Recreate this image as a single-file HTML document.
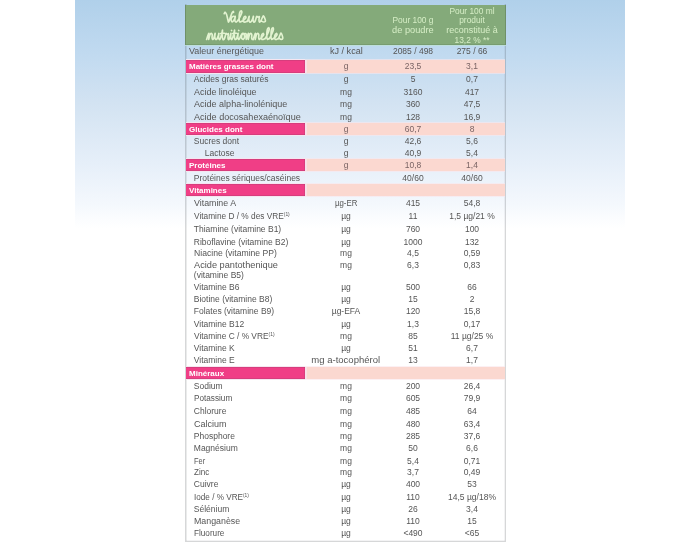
<!DOCTYPE html>
<html><head><meta charset="utf-8"><style>
html,body{margin:0;padding:0;width:700px;height:550px;overflow:hidden;background:#fff;}
body{position:relative;font-family:"Liberation Sans",sans-serif;}
.bg{position:absolute;left:75px;top:0;width:550px;height:550px;background:linear-gradient(to bottom,#b0d0ea 0px,#c1daf0 55px,#d3e3f2 104px,#e6eff9 164px,#f4f8fd 204px,#ffffff 228px);}
.box{position:absolute;left:185px;top:4px;width:319px;height:537px;border:1px solid rgba(50,55,60,.2);border-top:none;box-shadow:inset 1px 0 0 rgba(50,55,60,.1),inset -1px 0 0 rgba(50,55,60,.06),inset 0 -1px 0 rgba(50,55,60,.06);}
.hd{position:absolute;left:185px;top:4.5px;width:321px;height:40px;background:#84aa7a;box-shadow:inset -1px 0 0 #6f9068,inset 1px 0 0 #6f9068,inset 0 -1px 0 #789c70,0 1px 0 rgba(190,225,215,.8);}
.ttl{position:absolute;font-family:"Liberation Serif",serif;font-style:italic;color:#e6f4d4;opacity:.88;white-space:nowrap;}
.hc{position:absolute;width:80px;text-align:center;color:#d6eec6;font-size:8.4px;line-height:9.65px;white-space:nowrap;}
.t{position:absolute;height:12px;line-height:12px;white-space:nowrap;color:#555555;font-size:8.5px;}
.t sup{font-size:5px;vertical-align:top;line-height:8px;}
.l0{left:189.3px;}
.l1{left:193.8px;}
.l2{left:204.8px;}
.lb{left:189px;color:#fff;font-weight:bold;font-size:8px;}
.pv{color:#7a6464;}
.u{left:306px;width:80px;text-align:center;}
.c1{left:373px;width:80px;text-align:center;}
.c2{left:432px;width:80px;text-align:center;}
.pk{position:absolute;left:185.5px;width:119.2px;background:#f03e86;box-shadow:inset 0 1px 0 rgba(170,60,110,.35),inset 0 -1px 0 rgba(170,60,110,.35),inset -1px 0 0 rgba(170,60,110,.3),0 -1px 0 #f6e6f0,0 1px 0 #f6e6f0;}
.pl{position:absolute;left:304.7px;width:200.3px;background:linear-gradient(to right,#f9e1e9 0px,#f9e1e9 1.3px,#fbd8d0 2.5px);box-shadow:0 -1px 0 rgba(250,230,235,.6),0 1px 0 rgba(250,230,235,.6);}
#wrap{position:absolute;left:0;top:0;width:700px;height:550px;filter:blur(0.4px);}
</style></head><body><div id="wrap">
<div class="bg"></div>
<div class="box"></div>
<div class="hd"></div>
<svg width="700" height="60" style="position:absolute;left:0;top:0" viewBox="0 0 700 60"><path d="M235.26,17.16C234.93,17.01 233.97,16.02 233.28,16.30C232.60,16.59 231.35,17.91 231.15,18.86C230.95,19.81 231.52,22.00 232.10,22.00C232.68,22.00 234.10,19.81 234.63,18.86C235.15,17.91 235.22,16.06 235.26,16.30C235.30,16.54 234.76,19.34 234.86,20.29C234.97,21.24 235.50,21.83 235.89,22.00C236.29,22.17 236.55,22.17 237.23,21.32C237.92,20.46 239.24,18.32 240.00,16.87C240.76,15.42 241.62,13.59 241.82,12.60C242.01,11.60 241.55,10.84 241.19,10.88C240.82,10.93 239.95,11.50 239.60,12.88C239.26,14.26 239.08,17.63 239.13,19.15C239.18,20.67 239.45,21.70 239.92,22.00C240.39,22.30 241.63,21.09 241.97,20.97C242.32,20.86 241.61,21.54 241.97,21.32C242.34,21.09 243.53,20.20 244.19,19.61C244.85,19.01 245.77,18.28 245.92,17.73C246.08,17.17 245.56,16.16 245.13,16.30C244.71,16.44 243.63,17.68 243.40,18.58C243.16,19.48 243.36,21.14 243.71,21.71C244.07,22.29 244.90,22.12 245.53,22.00C246.16,21.88 247.18,21.09 247.50,20.97C247.83,20.86 247.31,21.86 247.50,21.32C247.70,20.77 248.40,18.56 248.69,17.73C248.98,16.89 249.22,16.02 249.24,16.30C249.27,16.59 248.78,18.51 248.85,19.43C248.91,20.36 249.27,21.45 249.64,21.83C250.01,22.21 250.56,22.21 251.06,21.71C251.56,21.22 252.24,19.77 252.64,18.86C253.03,17.96 253.36,16.16 253.43,16.30C253.50,16.44 252.97,18.77 253.03,19.72C253.10,20.67 253.50,21.73 253.82,22.00C254.15,22.27 254.58,22.12 255.01,21.32C255.44,20.51 256.12,17.99 256.43,17.16C256.75,16.32 256.64,16.30 256.91,16.30C257.17,16.30 257.60,17.11 258.01,17.16C258.42,17.20 259.20,16.16 259.36,16.59C259.51,17.01 258.96,18.82 258.96,19.72C258.96,20.62 259.09,21.73 259.36,22.00C259.62,22.27 260.01,22.08 260.54,21.32C261.07,20.56 262.01,18.32 262.51,17.44C263.02,16.56 263.11,15.73 263.54,16.02C263.98,16.30 264.83,18.27 265.12,19.15C265.41,20.03 265.54,20.84 265.28,21.32C265.02,21.79 264.13,22.03 263.54,22.00C262.95,21.97 262.03,21.29 261.73,21.14M224.20,13.73C224.36,13.48 224.75,12.05 225.15,12.20C225.54,12.34 226.10,13.24 226.57,14.59C227.04,15.94 227.65,19.05 227.99,20.29C228.33,21.52 228.27,22.38 228.62,22.00C228.98,21.62 229.57,19.48 230.12,18.01C230.68,16.54 231.42,14.26 231.94,13.16C232.47,12.07 233.02,11.60 233.28,11.45C233.55,11.31 233.48,12.17 233.52,12.31M206.60,39.40C206.86,38.65 207.76,35.90 208.14,34.90C208.53,33.90 208.77,33.15 208.91,33.40C209.06,33.65 209.02,35.40 208.98,36.40C208.95,37.40 208.58,39.60 208.70,39.40C208.83,39.20 209.35,36.20 209.76,35.20C210.17,34.20 210.75,33.50 211.16,33.40C211.57,33.30 212.06,33.90 212.21,34.60C212.36,35.30 212.01,36.80 212.07,37.60C212.13,38.40 212.31,39.22 212.56,39.40C212.82,39.58 213.26,39.43 213.61,38.68C213.97,37.93 214.41,35.78 214.67,34.90C214.92,34.02 215.13,33.10 215.16,33.40C215.18,33.70 214.75,35.73 214.81,36.70C214.87,37.67 215.18,38.82 215.51,39.22C215.84,39.62 216.33,39.62 216.77,39.10C217.22,38.58 217.82,37.05 218.17,36.10C218.52,35.15 218.82,33.25 218.88,33.40C218.93,33.55 218.47,36.00 218.52,37.00C218.58,38.00 218.93,39.12 219.23,39.40C219.52,39.68 219.85,39.68 220.28,38.68C220.71,37.68 221.45,34.83 221.82,33.40C222.20,31.97 222.45,29.70 222.52,30.10C222.59,30.50 222.17,34.25 222.24,35.80C222.31,37.35 222.57,38.95 222.94,39.40C223.32,39.85 224.02,39.35 224.49,38.50C224.96,37.65 225.47,35.15 225.75,34.30C226.03,33.45 225.94,33.40 226.17,33.40C226.40,33.40 226.79,34.25 227.15,34.30C227.52,34.35 228.21,33.25 228.35,33.70C228.49,34.15 227.99,36.05 227.99,37.00C227.99,37.95 228.11,39.12 228.35,39.40C228.58,39.68 229.02,39.48 229.40,38.68C229.77,37.88 230.33,35.48 230.59,34.60C230.85,33.72 230.93,33.00 230.94,33.40C230.95,33.80 230.60,36.00 230.66,37.00C230.72,38.00 231.01,39.12 231.29,39.40C231.57,39.68 231.91,39.68 232.34,38.68C232.78,37.68 233.51,34.83 233.89,33.40C234.26,31.97 234.52,29.70 234.59,30.10C234.66,30.50 234.24,34.25 234.31,35.80C234.38,37.35 234.64,38.95 235.01,39.40C235.38,39.85 236.10,39.30 236.55,38.50C237.01,37.70 237.49,35.45 237.75,34.60C238.00,33.75 238.08,33.00 238.10,33.40C238.11,33.80 237.76,36.00 237.82,37.00C237.87,38.00 238.17,39.12 238.45,39.40C238.73,39.68 239.11,39.28 239.50,38.68C239.88,38.08 240.24,36.68 240.76,35.80C241.29,34.92 242.02,33.40 242.66,33.40C243.29,33.40 244.43,34.83 244.55,35.80C244.67,36.77 243.85,38.87 243.36,39.22C242.87,39.57 241.76,38.75 241.60,37.90C241.45,37.05 241.91,34.82 242.44,34.12C242.98,33.42 244.21,33.67 244.83,33.70C245.45,33.73 245.94,33.35 246.16,34.30C246.38,35.25 245.91,39.30 246.16,39.40C246.42,39.50 247.32,35.90 247.71,34.90C248.09,33.90 248.34,33.15 248.48,33.40C248.62,33.65 248.58,35.40 248.55,36.40C248.51,37.40 248.14,39.60 248.27,39.40C248.40,39.20 248.91,36.20 249.32,35.20C249.73,34.20 250.31,33.50 250.72,33.40C251.13,33.30 251.62,33.90 251.77,34.60C251.93,35.30 251.58,36.80 251.63,37.60C251.69,38.40 251.87,39.22 252.13,39.40C252.38,39.58 253.00,38.68 253.18,38.68C253.35,38.68 252.92,40.03 253.18,39.40C253.43,38.77 254.33,35.90 254.72,34.90C255.11,33.90 255.35,33.15 255.49,33.40C255.63,33.65 255.60,35.40 255.56,36.40C255.53,37.40 255.15,39.60 255.28,39.40C255.41,39.20 255.92,36.20 256.33,35.20C256.74,34.20 257.33,33.50 257.74,33.40C258.15,33.30 258.64,33.90 258.79,34.60C258.94,35.30 258.59,36.80 258.65,37.60C258.71,38.40 258.88,39.22 259.14,39.40C259.40,39.58 259.69,39.10 260.19,38.68C260.69,38.26 261.57,37.51 262.16,36.88C262.74,36.25 263.56,35.48 263.70,34.90C263.84,34.32 263.37,33.25 263.00,33.40C262.62,33.55 261.67,34.85 261.45,35.80C261.24,36.75 261.42,38.50 261.74,39.10C262.05,39.70 262.79,39.53 263.35,39.40C263.91,39.27 264.81,38.44 265.10,38.32C265.39,38.20 264.69,39.40 265.10,38.68C265.51,37.96 266.88,35.53 267.56,34.00C268.24,32.47 269.00,30.55 269.17,29.50C269.35,28.45 268.94,27.65 268.61,27.70C268.28,27.75 267.51,28.35 267.21,29.80C266.90,31.25 266.74,34.80 266.79,36.40C266.83,38.00 267.07,39.08 267.49,39.40C267.91,39.72 269.01,38.44 269.31,38.32C269.61,38.20 268.90,39.40 269.31,38.68C269.72,37.96 271.09,35.53 271.77,34.00C272.44,32.47 273.20,30.55 273.38,29.50C273.55,28.45 273.15,27.65 272.82,27.70C272.49,27.75 271.72,28.35 271.42,29.80C271.11,31.25 270.95,34.80 270.99,36.40C271.04,38.00 271.28,39.08 271.70,39.40C272.12,39.72 273.22,38.44 273.52,38.32C273.82,38.20 273.19,38.92 273.52,38.68C273.85,38.44 274.90,37.51 275.48,36.88C276.07,36.25 276.89,35.48 277.03,34.90C277.17,34.32 276.70,33.25 276.33,33.40C275.95,33.55 274.99,34.85 274.78,35.80C274.57,36.75 274.75,38.50 275.06,39.10C275.38,39.70 276.12,39.53 276.68,39.40C277.24,39.27 278.14,38.44 278.43,38.32C278.72,38.20 278.14,39.30 278.43,38.68C278.72,38.06 279.74,35.53 280.18,34.60C280.63,33.67 280.71,32.80 281.10,33.10C281.48,33.40 282.24,35.47 282.50,36.40C282.76,37.33 282.87,38.18 282.64,38.68C282.41,39.18 281.62,39.43 281.10,39.40C280.57,39.37 279.75,38.65 279.48,38.50M220.63,33.52L224.49,33.22M231.50,30.40L231.64,30.58M232.69,33.52L236.55,33.22M238.66,30.40L238.80,30.58" fill="none" stroke="#e2f3d0" stroke-width="1.65" stroke-linecap="round" stroke-linejoin="round"/></svg>
<div class="hc" style="left:373px;top:16px">Pour 100 g<br><span style="display:inline-block;transform:scaleX(1.1)">de poudre</span></div>
<div class="hc" style="left:432px;top:6.6px">Pour 100 ml<br>produit<br><span style="display:inline-block;transform:scaleX(1.07)">reconstitué à</span><br>13,2 % **</div>
<div class="t l0" style="top:45.4px"><span style="display:inline-block;transform:scaleX(1.052);transform-origin:0 50%">Valeur énergétique</span></div>
<div class="t u" style="top:45.4px"><span style="display:inline-block;transform:scaleX(1.067)">kJ / kcal</span></div>
<div class="t c1" style="top:45.4px">2085 / 498</div>
<div class="t c2" style="top:45.4px">275 / 66</div>
<div class="pk" style="top:60.2px;height:12.4px"></div><div class="pl" style="top:60.2px;height:12.4px"></div>
<div class="t lb" style="top:61.3px">Matières grasses dont</div>
<div class="t u pv" style="top:60.3px">g</div>
<div class="t c1 pv" style="top:60.3px">23,5</div>
<div class="t c2 pv" style="top:60.3px">3,1</div>
<div class="t l1" style="top:73.0px">Acides gras saturés</div>
<div class="t u" style="top:73.0px">g</div>
<div class="t c1" style="top:73.0px">5</div>
<div class="t c2" style="top:73.0px">0,7</div>
<div class="t l1" style="top:85.6px"><span style="display:inline-block;transform:scaleX(1.051);transform-origin:0 50%">Acide linoléique</span></div>
<div class="t u" style="top:85.6px">mg</div>
<div class="t c1" style="top:85.6px">3160</div>
<div class="t c2" style="top:85.6px">417</div>
<div class="t l1" style="top:97.8px"><span style="display:inline-block;transform:scaleX(1.062);transform-origin:0 50%">Acide alpha-linolénique</span></div>
<div class="t u" style="top:97.8px">mg</div>
<div class="t c1" style="top:97.8px">360</div>
<div class="t c2" style="top:97.8px">47,5</div>
<div class="t l1" style="top:111.0px"><span style="display:inline-block;transform:scaleX(1.065);transform-origin:0 50%">Acide docosahexaénoïque</span></div>
<div class="t u" style="top:111.0px">mg</div>
<div class="t c1" style="top:111.0px">128</div>
<div class="t c2" style="top:111.0px">16,9</div>
<div class="pk" style="top:123.2px;height:12.0px"></div><div class="pl" style="top:123.2px;height:12.0px"></div>
<div class="t lb" style="top:124.1px">Glucides dont</div>
<div class="t u pv" style="top:123.1px">g</div>
<div class="t c1 pv" style="top:123.1px">60,7</div>
<div class="t c2 pv" style="top:123.1px">8</div>
<div class="t l1" style="top:134.8px">Sucres dont</div>
<div class="t u" style="top:134.8px">g</div>
<div class="t c1" style="top:134.8px">42,6</div>
<div class="t c2" style="top:134.8px">5,6</div>
<div class="t l2" style="top:147.0px">Lactose</div>
<div class="t u" style="top:147.0px">g</div>
<div class="t c1" style="top:147.0px">40,9</div>
<div class="t c2" style="top:147.0px">5,4</div>
<div class="pk" style="top:159.4px;height:12.0px"></div><div class="pl" style="top:159.4px;height:12.0px"></div>
<div class="t lb" style="top:160.4px">Protéines</div>
<div class="t u pv" style="top:159.4px">g</div>
<div class="t c1 pv" style="top:159.4px">10,8</div>
<div class="t c2 pv" style="top:159.4px">1,4</div>
<div class="t l1" style="top:171.7px">Protéines sériques/caséines</div>
<div class="t c1" style="top:171.7px">40/60</div>
<div class="t c2" style="top:171.7px">40/60</div>
<div class="pk" style="top:184.2px;height:12.0px"></div><div class="pl" style="top:184.2px;height:12.0px"></div>
<div class="t lb" style="top:185.3px">Vitamines</div>
<div class="t l1" style="top:197.2px"><span style="display:inline-block;transform:scaleX(1.038);transform-origin:0 50%">Vitamine A</span></div>
<div class="t u" style="top:197.2px"><span style="display:inline-block;transform:scaleX(0.92)">µg-ER</span></div>
<div class="t c1" style="top:197.2px">415</div>
<div class="t c2" style="top:197.2px">54,8</div>
<div class="t l1" style="top:209.7px"><span style="display:inline-block;transform:scaleX(0.976);transform-origin:0 50%">Vitamine D / % des VRE<sup>(1)</sup></span></div>
<div class="t u" style="top:209.7px">µg</div>
<div class="t c1" style="top:209.7px">11</div>
<div class="t c2" style="top:209.7px">1,5 µg/21 %</div>
<div class="t l1" style="top:222.8px">Thiamine (vitamine B1)</div>
<div class="t u" style="top:222.8px">µg</div>
<div class="t c1" style="top:222.8px">760</div>
<div class="t c2" style="top:222.8px">100</div>
<div class="t l1" style="top:235.7px">Riboflavine (vitamine B2)</div>
<div class="t u" style="top:235.7px">µg</div>
<div class="t c1" style="top:235.7px">1000</div>
<div class="t c2" style="top:235.7px">132</div>
<div class="t l1" style="top:247.4px"><span style="display:inline-block;transform:scaleX(1.015);transform-origin:0 50%">Niacine (vitamine PP)</span></div>
<div class="t u" style="top:247.4px">mg</div>
<div class="t c1" style="top:247.4px">4,5</div>
<div class="t c2" style="top:247.4px">0,59</div>
<div class="t l1" style="top:259.3px"><span style="display:inline-block;transform:scaleX(1.083);transform-origin:0 50%">Acide pantothenique</span></div>
<div class="t u" style="top:259.3px">mg</div>
<div class="t c1" style="top:259.3px">6,3</div>
<div class="t c2" style="top:259.3px">0,83</div>
<div class="t l1" style="top:269.1px">(vitamine B5)</div>
<div class="t l1" style="top:281.4px">Vitamine B6</div>
<div class="t u" style="top:281.4px">µg</div>
<div class="t c1" style="top:281.4px">500</div>
<div class="t c2" style="top:281.4px">66</div>
<div class="t l1" style="top:293.0px">Biotine (vitamine B8)</div>
<div class="t u" style="top:293.0px">µg</div>
<div class="t c1" style="top:293.0px">15</div>
<div class="t c2" style="top:293.0px">2</div>
<div class="t l1" style="top:305.2px">Folates (vitamine B9)</div>
<div class="t u" style="top:305.2px">µg-EFA</div>
<div class="t c1" style="top:305.2px">120</div>
<div class="t c2" style="top:305.2px">15,8</div>
<div class="t l1" style="top:317.8px">Vitamine B12</div>
<div class="t u" style="top:317.8px">µg</div>
<div class="t c1" style="top:317.8px">1,3</div>
<div class="t c2" style="top:317.8px">0,17</div>
<div class="t l1" style="top:330.0px"><span style="display:inline-block;transform:scaleX(0.982);transform-origin:0 50%">Vitamine C / % VRE<sup>(1)</sup></span></div>
<div class="t u" style="top:330.0px">mg</div>
<div class="t c1" style="top:330.0px">85</div>
<div class="t c2" style="top:330.0px">11 µg/25 %</div>
<div class="t l1" style="top:342.2px">Vitamine K</div>
<div class="t u" style="top:342.2px">µg</div>
<div class="t c1" style="top:342.2px">51</div>
<div class="t c2" style="top:342.2px">6,7</div>
<div class="t l1" style="top:353.9px">Vitamine E</div>
<div class="t u" style="top:353.9px"><span style="display:inline-block;transform:scaleX(1.12)">mg a-tocophérol</span></div>
<div class="t c1" style="top:353.9px">13</div>
<div class="t c2" style="top:353.9px">1,7</div>
<div class="pk" style="top:366.9px;height:12.0px"></div><div class="pl" style="top:366.9px;height:12.0px"></div>
<div class="t lb" style="top:368.0px">Minéraux</div>
<div class="t l1" style="top:380.0px">Sodium</div>
<div class="t u" style="top:380.0px">mg</div>
<div class="t c1" style="top:380.0px">200</div>
<div class="t c2" style="top:380.0px">26,4</div>
<div class="t l1" style="top:392.1px"><span style="display:inline-block;transform:scaleX(0.964);transform-origin:0 50%">Potassium</span></div>
<div class="t u" style="top:392.1px">mg</div>
<div class="t c1" style="top:392.1px">605</div>
<div class="t c2" style="top:392.1px">79,9</div>
<div class="t l1" style="top:404.7px">Chlorure</div>
<div class="t u" style="top:404.7px">mg</div>
<div class="t c1" style="top:404.7px">485</div>
<div class="t c2" style="top:404.7px">64</div>
<div class="t l1" style="top:418.0px"><span style="display:inline-block;transform:scaleX(1.06);transform-origin:0 50%">Calcium</span></div>
<div class="t u" style="top:418.0px">mg</div>
<div class="t c1" style="top:418.0px">480</div>
<div class="t c2" style="top:418.0px">63,4</div>
<div class="t l1" style="top:430.2px">Phosphore</div>
<div class="t u" style="top:430.2px">mg</div>
<div class="t c1" style="top:430.2px">285</div>
<div class="t c2" style="top:430.2px">37,6</div>
<div class="t l1" style="top:442.4px">Magnésium</div>
<div class="t u" style="top:442.4px">mg</div>
<div class="t c1" style="top:442.4px">50</div>
<div class="t c2" style="top:442.4px">6,6</div>
<div class="t l1" style="top:454.5px"><span style="display:inline-block;transform:scaleX(0.87);transform-origin:0 50%">Fer</span></div>
<div class="t u" style="top:454.5px">mg</div>
<div class="t c1" style="top:454.5px">5,4</div>
<div class="t c2" style="top:454.5px">0,71</div>
<div class="t l1" style="top:466.0px"><span style="display:inline-block;transform:scaleX(0.95);transform-origin:0 50%">Zinc</span></div>
<div class="t u" style="top:466.0px">mg</div>
<div class="t c1" style="top:466.0px">3,7</div>
<div class="t c2" style="top:466.0px">0,49</div>
<div class="t l1" style="top:478.2px">Cuivre</div>
<div class="t u" style="top:478.2px">µg</div>
<div class="t c1" style="top:478.2px">400</div>
<div class="t c2" style="top:478.2px">53</div>
<div class="t l1" style="top:490.8px"><span style="display:inline-block;transform:scaleX(0.96);transform-origin:0 50%">Iode / % VRE<sup>(1)</sup></span></div>
<div class="t u" style="top:490.8px">µg</div>
<div class="t c1" style="top:490.8px">110</div>
<div class="t c2" style="top:490.8px">14,5 µg/18%</div>
<div class="t l1" style="top:503.0px">Sélénium</div>
<div class="t u" style="top:503.0px">µg</div>
<div class="t c1" style="top:503.0px">26</div>
<div class="t c2" style="top:503.0px">3,4</div>
<div class="t l1" style="top:515.2px"><span style="display:inline-block;transform:scaleX(1.039);transform-origin:0 50%">Manganèse</span></div>
<div class="t u" style="top:515.2px">µg</div>
<div class="t c1" style="top:515.2px">110</div>
<div class="t c2" style="top:515.2px">15</div>
<div class="t l1" style="top:526.9px"><span style="display:inline-block;transform:scaleX(0.961);transform-origin:0 50%">Fluorure</span></div>
<div class="t u" style="top:526.9px">µg</div>
<div class="t c1" style="top:526.9px">&lt;490</div>
<div class="t c2" style="top:526.9px">&lt;65</div>
</div></body></html>
